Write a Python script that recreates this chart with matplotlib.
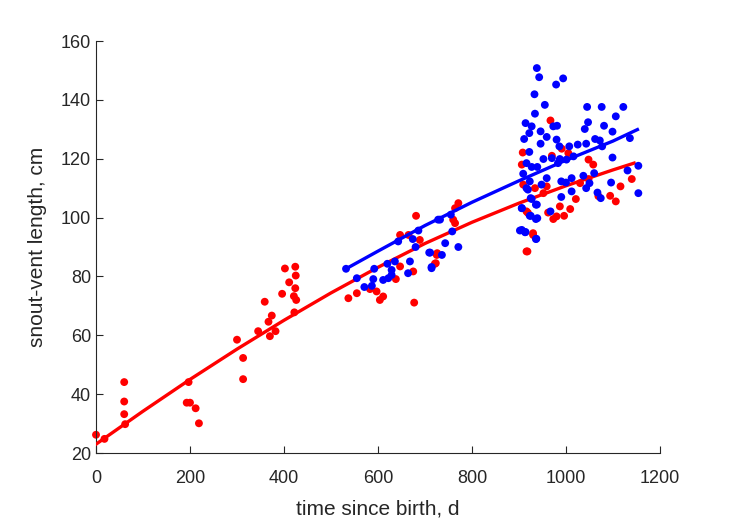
import matplotlib.pyplot as plt
import numpy as np

plt.rcParams['font.family'] = ['Liberation Sans', 'DejaVu Sans']

# red group: observations (time since birth, snout-vent length)
red_t = [0, 18, 60, 60, 60, 62, 197, 193, 200, 212, 219, 300, 313, 313, 345, 359, 367, 374,
         370, 382, 396, 402, 424, 425, 411, 424, 421, 426, 422,
         537, 555, 604, 611, 597, 583, 638, 647, 675, 677, 647, 665, 689, 726, 723, 681,
         771, 764, 760, 764, 725, 721, 916, 930, 919,
         967, 908, 906, 970, 991, 1005, 1048, 1058, 1140, 1116, 1094, 1106, 1069, 1021,
         987, 1009, 996, 973, 980, 962, 952, 934, 909, 959, 1048, 1030, 930, 918, 916]
red_L = [26.2, 24.8, 44.1, 37.5, 33.2, 29.8, 44.1, 37.1, 37.1, 35.2, 30.1, 58.5, 52.3, 45.1,
         61.4, 71.4, 64.6, 66.7, 59.7, 61.4, 74.1, 82.7, 83.3, 80.3, 78.0, 76.0, 73.3, 72.0, 67.8,
         72.6, 74.3, 72.0, 73.2, 74.9, 75.7, 79.1, 83.4, 81.7, 71.1, 94.1, 94.1, 92.4, 87.9, 84.5, 100.6,
         104.9, 103.2, 99.3, 98.1, 87.3, 84.3, 88.5, 94.1, 101.6,
         133.0, 122.1, 118.0, 121.0, 123.4, 121.9, 119.7, 118.0, 113.1, 110.6, 107.4, 105.5, 107.3, 106.3,
         103.8, 102.9, 100.6, 99.5, 100.4, 101.7, 108.3, 110.0, 111.2, 110.6, 113.1, 111.7, 94.7, 88.5, 102.1]

# blue group
blue_t = [532, 555, 571, 587, 590, 592, 611, 622, 629, 620, 636, 629, 668, 664, 643, 674, 686,
          680, 709, 714, 728, 732, 755, 758, 743, 771, 736, 714, 711,
          906, 914, 936, 906, 923, 936, 927, 938, 919,
          938, 943, 994, 979, 933, 955, 934, 1045, 1076, 1122, 1106, 1047, 1040, 1081, 1099, 1136,
          914, 927, 973, 981, 922, 911, 946, 959, 946, 980, 986, 1007, 1025, 1043, 1062, 1072, 1077,
          922, 952, 970, 987, 1001, 1016, 1099, 916, 927, 939, 983, 909, 1154, 1131, 1060, 1037,
          1012, 990, 1000, 959, 923, 916, 948, 1050, 1043, 1096, 1154, 1067, 1074, 1012, 990,
          925, 936, 906, 967, 925, 939, 902, 913, 937]
blue_L = [82.6, 79.4, 76.4, 76.8, 79.1, 82.6, 78.8, 79.4, 80.5, 84.3, 85.1, 82.2, 85.1, 81.1, 91.9,
          92.7, 95.6, 90.0, 88.1, 83.2, 99.3, 99.3, 101.0, 95.3, 91.3, 90.0, 87.3, 82.8, 88.1,
          95.8, 95.1, 92.7, 103.2, 100.6, 99.5, 106.3, 104.4, 109.5,
          150.8, 147.7, 147.3, 145.2, 141.9, 138.3, 135.3, 137.6, 137.6, 137.6, 134.4, 132.4, 130.1,
          131.2, 129.2, 127.0,
          132.1, 131.0, 131.0, 131.2, 128.7, 126.7, 129.3, 127.4, 125.1, 126.5, 124.2, 124.2, 124.8,
          125.1, 126.7, 126.2, 124.2,
          122.3, 119.9, 120.2, 119.9, 119.7, 120.8, 120.4, 118.5, 117.2, 117.2, 118.5, 114.9, 117.6,
          116.0, 115.1, 114.2,
          113.4, 112.3, 111.9, 113.4, 112.3, 110.0, 111.2, 111.7, 110.0, 111.9, 108.3, 108.5, 106.6,
          108.9, 107.0,
          106.6, 104.4, 103.2, 102.1, 100.6, 99.8, 95.6, 95.0, 92.8]

# fitted growth curves
red_fit_t = [0, 100, 200, 300, 400, 500, 600, 700, 800, 900, 1000, 1100, 1145]
red_fit_L = [23.0, 34.2, 45.0, 55.3, 65.1, 74.4, 83.1, 91.2, 98.4, 104.9, 110.8, 116.2, 118.5]
blue_fit_t = [532, 600, 700, 800, 900, 1000, 1100, 1152]
blue_fit_L = [82.6, 88.6, 97.3, 105.2, 112.5, 119.5, 126.0, 129.9]

fig = plt.figure(figsize=(7.29, 5.21), dpi=100)
ax = fig.add_axes([0.1317, 0.1305, 0.7736, 0.7908])

ax.scatter(red_t, red_L, s=32, color='red', edgecolors='none', zorder=2, clip_on=False)
ax.plot(red_fit_t, red_fit_L, color='red', lw=2.4, zorder=3)
ax.scatter(blue_t, blue_L, s=32, color='blue', edgecolors='none', zorder=4, clip_on=False)
ax.plot(blue_fit_t, blue_fit_L, color='blue', lw=2.4, zorder=5)

ax.set_xlim(0, 1200)
ax.set_ylim(20, 160)
ax.set_xticks(np.arange(0, 1201, 200))
ax.set_yticks(np.arange(20, 161, 20))
for s in ['top', 'right']:
    ax.spines[s].set_visible(False)
for s in ['left', 'bottom']:
    ax.spines[s].set_color('#262626')
    ax.spines[s].set_linewidth(0.8)
ax.tick_params(direction='in', length=5, width=0.8, colors='#262626', labelsize=13)
ax.tick_params(axis='x', pad=12)
ax.set_xlabel('time since birth, d', fontsize=15, color='#262626', labelpad=9)
ax.set_ylabel('snout-vent length, cm', fontsize=15, color='#262626', labelpad=10)

fig.savefig('out.png', dpi=100)
